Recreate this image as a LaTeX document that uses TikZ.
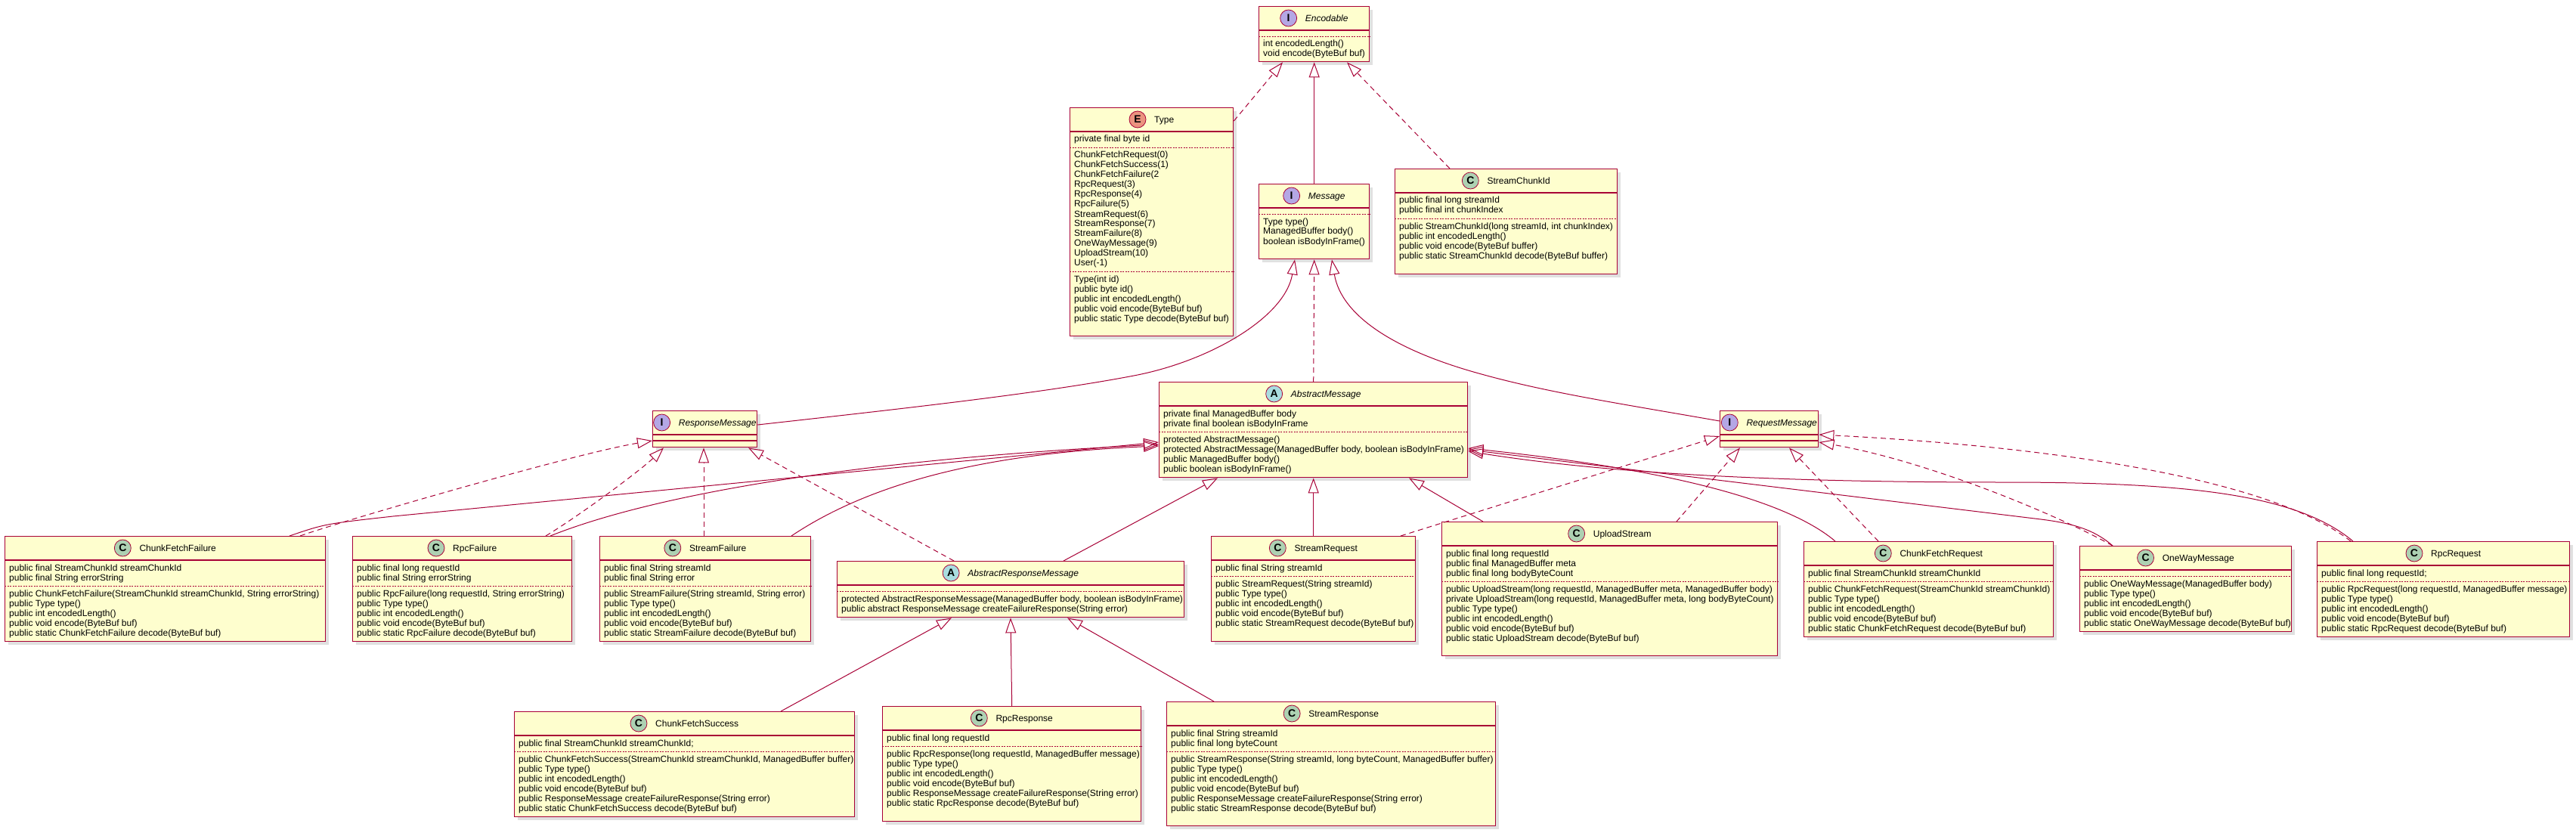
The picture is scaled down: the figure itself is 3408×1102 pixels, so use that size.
\documentclass[tikz,border=0pt]{standalone}
\usepackage{fontspec}
\setmainfont{Liberation Sans}
\usepackage{tikz}
\usetikzlibrary{arrows.meta,positioning,shadows}
\usepackage{xcolor}
\definecolor{umlborder}{HTML}{A80036}
\definecolor{umlfill}{HTML}{FEFECE}
\definecolor{iconC}{HTML}{ADD1B2}
\definecolor{iconI}{HTML}{B4A7E5}
\definecolor{iconA}{HTML}{A9DCDF}
\definecolor{iconE}{HTML}{EB937F}

% class box: name, left, top, width, height, letter, icon colour, title
\newcommand{\umlbox}[8]{%
  \node[classbox, minimum width=#4pt, minimum height=#5pt] (#1) at (#2,#3) {};
  \draw[headrule] ([yshift=-32pt]#1.north west) -- ([yshift=-32pt]#1.north east);
  \node[titletext] (#1-t) at ([xshift=16.5pt, yshift=-20.5pt]#1.north) {#8};
  \node[umlicon, fill=#7] (#1-i) at ([xshift=-22pt, yshift=4.5pt]#1-t.base west) {#6};
}
% compartment text: class, first baseline below top, lines
\newcommand{\umltext}[3]{%
  \node[member] at ([xshift=6pt, yshift=-#2pt]#1.north west)
    {\begin{tabular}[t]{@{}l@{}}#3\end{tabular}};
}
% compartment rule: class, offset below top, style
\newcommand{\umlrule}[3]{%
  \draw[#3] ([yshift=-#2pt]#1.north west) -- ([yshift=-#2pt]#1.north east);
}

\begin{document}
\begin{tikzpicture}[x=1pt, y=-1pt,
    classbox/.style={draw=umlborder, fill=umlfill, line width=1.4pt, inner sep=0pt,
      anchor=north west, drop shadow={shadow xshift=4pt, shadow yshift=-4pt, fill=black!60, opacity=0.2}},
    titletext/.style={font=\fontsize{12}{13}\selectfont, inner sep=0pt, anchor=base},
    member/.style={font=\fontsize{12}{13}\selectfont, inner sep=0pt, anchor=base west},
    umlicon/.style={circle, draw=umlborder, line width=0.8pt, minimum size=22pt, inner sep=0pt,
      font=\fontsize{14}{14}\selectfont\bfseries},
    headrule/.style={draw=umlborder, line width=1.4pt},
    dotrule/.style={draw=umlborder, line width=0.7pt, dash pattern=on 2pt off 1.5pt},
    extends/.style={draw=umlborder, line width=1pt, -{Triangle[open, length=20pt, width=14pt]}},
    implements/.style={extends, dash pattern=on 7pt off 5pt}]

    \fill[white] (0,0) rectangle (3408,1102);
    \useasboundingbox (0,0) rectangle (3408,1102);

    % Top level
    \umlbox{enc}{1665}{8}{146}{73}{I}{iconI}{\textit{Encodable}}
    \umlrule{enc}{40}{dotrule}
    \umltext{enc}{54}{int encodedLength()\\void encode(ByteBuf buf)}

    \umlbox{type}{1415}{142}{216}{302}{E}{iconE}{Type}
    \umltext{type}{46}{private final byte id}
    \umlrule{type}{53}{dotrule}
    \umltext{type}{67}{ChunkFetchRequest(0)\\ChunkFetchSuccess(1)\\ChunkFetchFailure(2\\RpcRequest(3)\\
      RpcResponse(4)\\RpcFailure(5)\\StreamRequest(6)\\StreamResponse(7)\\StreamFailure(8)\\
      OneWayMessage(9)\\UploadStream(10)\\User(-1)}
    \umlrule{type}{217}{dotrule}
    \umltext{type}{231}{Type(int id)\\public byte id()\\public int encodedLength()\\
      public void encode(ByteBuf buf)\\public static Type decode(ByteBuf buf)}

    \umlbox{msg}{1665}{243}{146}{99}{I}{iconI}{\textit{Message}}
    \umlrule{msg}{40}{dotrule}
    \umltext{msg}{54}{Type type()\\ManagedBuffer body()\\boolean isBodyInFrame()}

    \umlbox{sci}{1845}{223}{294}{139}{C}{iconC}{StreamChunkId}
    \umltext{sci}{46}{public final long streamId\\public final int chunkIndex}
    \umlrule{sci}{66}{dotrule}
    \umltext{sci}{80}{public StreamChunkId(long streamId, int chunkIndex)\\public int encodedLength()\\
      public void encode(ByteBuf buffer)\\public static StreamChunkId decode(ByteBuf buffer)}

    % Middle level
    \umlbox{am}{1533}{505}{408}{126}{A}{iconA}{\textit{AbstractMessage}}
    \umltext{am}{46}{private final ManagedBuffer body\\private final boolean isBodyInFrame}
    \umlrule{am}{66}{dotrule}
    \umltext{am}{80}{protected AbstractMessage()\\
      protected AbstractMessage(ManagedBuffer body, boolean isBodyInFrame)\\
      public ManagedBuffer body()\\public boolean isBodyInFrame()}

    \umlbox{rsp}{863}{543}{138}{48}{I}{iconI}{\textit{ResponseMessage}}
    \umlrule{rsp}{40}{headrule}

    \umlbox{rqm}{2275}{543}{130}{48}{I}{iconI}{\textit{RequestMessage}}
    \umlrule{rqm}{40}{headrule}

    % Message classes
    \umlbox{cff}{6}{709}{424}{139}{C}{iconC}{ChunkFetchFailure}
    \umltext{cff}{46}{public final StreamChunkId streamChunkId\\public final String errorString}
    \umlrule{cff}{66}{dotrule}
    \umltext{cff}{80}{public ChunkFetchFailure(StreamChunkId streamChunkId, String errorString)\\
      public Type type()\\public int encodedLength()\\public void encode(ByteBuf buf)\\
      public static ChunkFetchFailure decode(ByteBuf buf)}

    \umlbox{rpcf}{466}{709}{290}{139}{C}{iconC}{RpcFailure}
    \umltext{rpcf}{46}{public final long requestId\\public final String errorString}
    \umlrule{rpcf}{66}{dotrule}
    \umltext{rpcf}{80}{public RpcFailure(long requestId, String errorString)\\
      public Type type()\\public int encodedLength()\\public void encode(ByteBuf buf)\\
      public static RpcFailure decode(ByteBuf buf)}

    \umlbox{sf}{793}{709}{279}{139}{C}{iconC}{StreamFailure}
    \umltext{sf}{46}{public final String streamId\\public final String error}
    \umlrule{sf}{66}{dotrule}
    \umltext{sf}{80}{public StreamFailure(String streamId, String error)\\
      public Type type()\\public int encodedLength()\\public void encode(ByteBuf buf)\\
      public static StreamFailure decode(ByteBuf buf)}

    \umlbox{arm}{1107}{742}{459}{74}{A}{iconA}{\textit{AbstractResponseMessage}}
    \umlrule{arm}{40}{dotrule}
    \umltext{arm}{54}{protected AbstractResponseMessage(ManagedBuffer body, boolean isBodyInFrame)\\
      public abstract ResponseMessage createFailureResponse(String error)}

    \umlbox{sr}{1602}{709}{270}{139}{C}{iconC}{StreamRequest}
    \umltext{sr}{46}{public final String streamId}
    \umlrule{sr}{53}{dotrule}
    \umltext{sr}{67}{public StreamRequest(String streamId)\\
      public Type type()\\public int encodedLength()\\public void encode(ByteBuf buf)\\
      public static StreamRequest decode(ByteBuf buf)}

    \umlbox{us}{1907}{690}{444}{177}{C}{iconC}{UploadStream}
    \umltext{us}{46}{public final long requestId\\public final ManagedBuffer meta\\public final long bodyByteCount}
    \umlrule{us}{79}{dotrule}
    \umltext{us}{93}{public UploadStream(long requestId, ManagedBuffer meta, ManagedBuffer body)\\
      private UploadStream(long requestId, ManagedBuffer meta, long bodyByteCount)\\
      public Type type()\\public int encodedLength()\\public void encode(ByteBuf buf)\\
      public static UploadStream decode(ByteBuf buf)}

    \umlbox{cfr}{2386}{716}{330}{126}{C}{iconC}{ChunkFetchRequest}
    \umltext{cfr}{46}{public final StreamChunkId streamChunkId}
    \umlrule{cfr}{53}{dotrule}
    \umltext{cfr}{67}{public ChunkFetchRequest(StreamChunkId streamChunkId)\\
      public Type type()\\public int encodedLength()\\public void encode(ByteBuf buf)\\
      public static ChunkFetchRequest decode(ByteBuf buf)}

    \umlbox{owm}{2751}{722}{280}{113}{C}{iconC}{OneWayMessage}
    \umlrule{owm}{40}{dotrule}
    \umltext{owm}{54}{public OneWayMessage(ManagedBuffer body)\\
      public Type type()\\public int encodedLength()\\public void encode(ByteBuf buf)\\
      public static OneWayMessage decode(ByteBuf buf)}

    \umlbox{rr}{3065}{716}{334}{126}{C}{iconC}{RpcRequest}
    \umltext{rr}{46}{public final long requestId;}
    \umlrule{rr}{53}{dotrule}
    \umltext{rr}{67}{public RpcRequest(long requestId, ManagedBuffer message)\\
      public Type type()\\public int encodedLength()\\public void encode(ByteBuf buf)\\
      public static RpcRequest decode(ByteBuf buf)}

    % Response classes
    \umlbox{cfs}{680}{941}{450}{139}{C}{iconC}{ChunkFetchSuccess}
    \umltext{cfs}{46}{public final StreamChunkId streamChunkId;}
    \umlrule{cfs}{53}{dotrule}
    \umltext{cfs}{67}{public ChunkFetchSuccess(StreamChunkId streamChunkId, ManagedBuffer buffer)\\
      public Type type()\\public int encodedLength()\\public void encode(ByteBuf buf)\\
      public ResponseMessage createFailureResponse(String error)\\
      public static ChunkFetchSuccess decode(ByteBuf buf)}

    \umlbox{rpcr}{1167}{934}{342}{152}{C}{iconC}{RpcResponse}
    \umltext{rpcr}{46}{public final long requestId}
    \umlrule{rpcr}{53}{dotrule}
    \umltext{rpcr}{67}{public RpcResponse(long requestId, ManagedBuffer message)\\
      public Type type()\\public int encodedLength()\\public void encode(ByteBuf buf)\\
      public ResponseMessage createFailureResponse(String error)\\
      public static RpcResponse decode(ByteBuf buf)}

    \umlbox{sresp}{1543}{928}{435}{164}{C}{iconC}{StreamResponse}
    \umltext{sresp}{46}{public final String streamId\\public final long byteCount}
    \umlrule{sresp}{66}{dotrule}
    \umltext{sresp}{80}{public StreamResponse(String streamId, long byteCount, ManagedBuffer buffer)\\
      public Type type()\\public int encodedLength()\\public void encode(ByteBuf buf)\\
      public ResponseMessage createFailureResponse(String error)\\
      public static StreamResponse decode(ByteBuf buf)}

    % Encodable
    \draw[implements] ([yshift=-18pt]type.north east) -- ([xshift=32pt]enc.south west);
    \draw[extends] (msg.north) -- (enc.south);
    \draw[implements] ([xshift=73pt]sci.north west) -- ([xshift=117pt]enc.south west);

    % Message
    \draw[implements] (am.north) -- (msg.south);
    \draw[extends] ([yshift=-19pt]rsp.north east) .. controls (1200,540) and (1380,520) .. (1500,497)
        .. controls (1600,478) and (1700,420) .. ([xshift=48pt]msg.south west);
    \draw[extends] ([yshift=-14pt]rqm.north west) .. controls (2150,535) and (2050,520) .. (1960,495)
        .. controls (1850,465) and (1775,420) .. ([xshift=97pt]msg.south west);

    % AbstractMessage
    \draw[extends] ([xshift=377pt]cff.north west) .. controls (430,693) .. (520,683)
        -- ([yshift=-80pt]am.north west);
    \draw[extends] ([xshift=262pt]rpcf.north west) .. controls (850,660) and (1100,610)
        .. ([yshift=-83pt]am.north west);
    \draw[extends] ([xshift=254pt]sf.north west) .. controls (1150,640) and (1300,600)
        .. ([yshift=-85pt]am.north west);
    \draw[extends] ([xshift=300pt]arm.north west) -- ([xshift=78pt]am.south west);
    \draw[extends] (sr.north) -- (am.south);
    \draw[extends] ([xshift=55pt]us.north west) -- ([xshift=331pt]am.south west);
    \draw[extends] ([xshift=42pt]cfr.north west) .. controls (2350,650) and (2150,615)
        .. ([yshift=-88pt]am.north east);
    \draw[extends] ([xshift=44pt]owm.north west) .. controls (2770,700) and (2740,692) .. (2700,687)
        -- ([yshift=-90pt]am.north east);
    \draw[extends] ([xshift=48pt]rr.north west) .. controls (3040,655) and (2900,638) .. (2650,638)
        .. controls (2400,638) and (2150,630) .. ([yshift=-92pt]am.north east);

    % ResponseMessage
    \draw[implements] ([xshift=391pt]cff.north west) .. controls (450,690) and (760,600)
        .. ([yshift=-40pt]rsp.north west);
    \draw[implements] ([xshift=256pt]rpcf.north west) .. controls (770,680) and (850,620)
        .. ([xshift=15pt]rsp.south west);
    \draw[implements] ([xshift=138pt]sf.north west) -- ([xshift=68pt]rsp.south west);
    \draw[implements] ([xshift=155pt]arm.north west) -- ([xshift=127pt]rsp.south west);

    % RequestMessage
    \draw[implements] ([xshift=251pt]sr.north west) -- ([yshift=-34pt]rqm.north west);
    \draw[implements] ([xshift=311pt]us.north west) -- ([xshift=27pt]rqm.south west);
    \draw[implements] ([xshift=99pt]cfr.north west) -- ([xshift=92pt]rqm.south west);
    \draw[implements] ([xshift=44pt]owm.north west) .. controls (2720,680) and (2550,610)
        .. ([yshift=-42pt]rqm.north east);
    \draw[implements] ([xshift=45pt]rr.north west) .. controls (3000,630) and (2700,590)
        .. ([yshift=-32pt]rqm.north east);

    % AbstractResponseMessage
    \draw[extends] ([xshift=353pt]cfs.north west) -- ([xshift=152pt]arm.south west);
    \draw[extends] (rpcr.north) -- ([xshift=230pt]arm.south west);
    \draw[extends] ([xshift=63pt]sresp.north west) -- ([xshift=305pt]arm.south west);
\end{tikzpicture}
\end{document}
